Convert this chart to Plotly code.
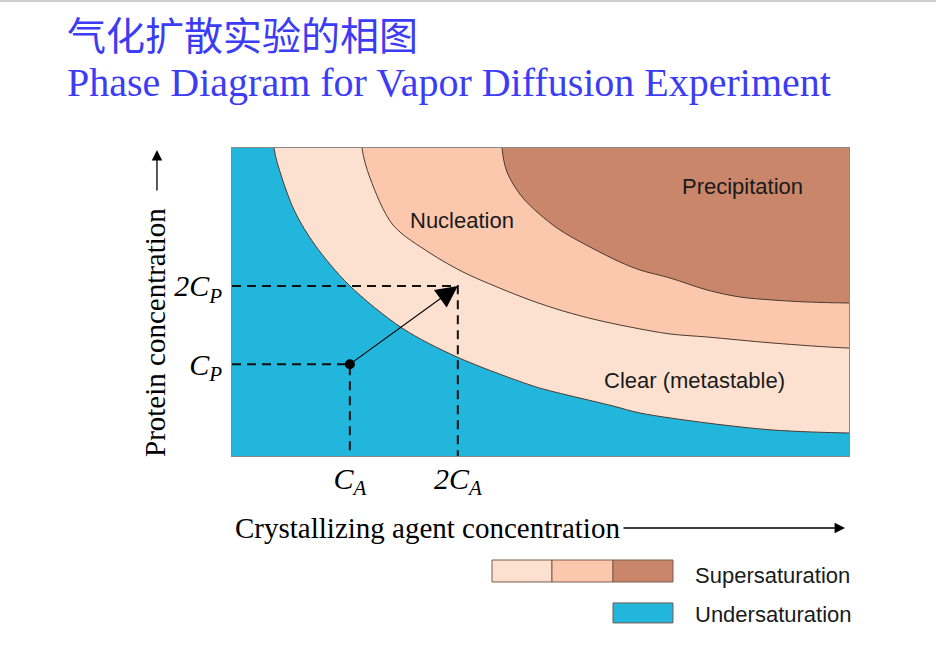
import plotly.graph_objects as go

# ---- data (arbitrary concentration units; x: 0..10, y: 0..5) ----
solub_x = [0.681, 0.810, 1.021, 1.345, 1.896, 2.755, 3.647, 4.830, 5.105, 6.175, 6.613, 7.699, 8.768, 10.0]
solub_y = [5.000, 4.513, 3.961, 3.425, 2.776, 2.078, 1.607, 1.153, 1.071, 0.812, 0.698, 0.536, 0.422, 0.373]

nucl_x = [2.107, 2.237, 2.609, 3.209, 3.744, 4.295, 4.830, 5.365, 5.916, 6.451, 7.099, 7.699, 8.768, 10.0]
nucl_y = [5.000, 4.513, 3.750, 3.295, 2.987, 2.744, 2.532, 2.354, 2.208, 2.094, 1.981, 1.932, 1.834, 1.753]

prec_x = [4.376, 4.457, 4.716, 5.267, 5.802, 6.288, 6.613, 7.099, 7.699, 8.233, 8.768, 9.319, 10.0]
prec_y = [5.000, 4.610, 4.188, 3.701, 3.393, 3.149, 3.019, 2.890, 2.695, 2.581, 2.532, 2.500, 2.484]

CA, CA2 = 1.91, 3.66
CP, CP2 = 1.49, 2.76
x_ticks = [CA, CA2]
x_ticktext = ["<i>C<sub>A</sub></i>", "<i>2C<sub>A</sub></i>"]
y_ticks = [CP, CP2]
y_ticktext = ["<i>C<sub>P</sub></i>", "<i>2C<sub>P</sub></i>"]

regions = ["Clear (metastable)", "Nucleation", "Precipitation"]
region_pos = [(7.50, 1.22), (3.73, 3.83), (8.27, 4.37)]

BLUE = "#22b6dc"
LIGHT = "#fde1d0"
MID = "#fbc8ad"
DARK = "#c9866a"
EDGE = "#4a3a30"

fig = go.Figure()

XR, YR = [0, 10], [0, 5]
out_x = XR[1] + 0.8
out_y = YR[1] + 0.6
for cx, cy, col in [(solub_x, solub_y, LIGHT), (nucl_x, nucl_y, MID), (prec_x, prec_y, DARK)]:
    xs = [cx[0]] + list(cx) + [out_x, out_x, cx[0]]
    ys = [out_y] + list(cy) + [cy[-1], out_y, out_y]
    fig.add_trace(go.Scatter(x=xs, y=ys, fill="toself", fillcolor=col, mode="lines",
                             line=dict(color=EDGE, width=1, shape="spline", smoothing=0.9),
                             hoverinfo="skip", showlegend=False))

# dashed guide lines
for xv, yv in [(CA, CP), (CA2, CP2)]:
    fig.add_trace(go.Scatter(x=[0, xv, xv], y=[yv, yv, 0], mode="lines",
                             line=dict(color="#111", width=2, dash="9px,6px"),
                             hoverinfo="skip", showlegend=False))

# starting point
fig.add_trace(go.Scatter(x=[CA], y=[CP], mode="markers",
                         marker=dict(color="black", size=10), hoverinfo="skip", showlegend=False))

fig.add_annotation(x=CA2, y=CP2, ax=CA, ay=CP, xref="x", yref="y", axref="x", ayref="y",
                   showarrow=True, arrowhead=2, arrowsize=3.6, arrowwidth=1.2,
                   arrowcolor="black", text="", standoff=0)

for txt, (tx, ty) in zip(regions, region_pos):
    fig.add_annotation(x=tx, y=ty, text=txt, showarrow=False,
                       font=dict(family="Liberation Sans, Arial", size=22, color="#1a1a1a"))

# titles
fig.add_annotation(xref="paper", yref="paper", x=-0.2707, y=1.375, xanchor="left", yanchor="middle",
                   text="气化扩散实验的相图", showarrow=False,
                   font=dict(family="Noto Sans CJK SC", size=39, color="#3c3cf5"))
fig.add_annotation(xref="paper", yref="paper", x=-0.2707, y=1.214, xanchor="left", yanchor="middle",
                   text="Phase Diagram for Vapor Diffusion Experiment", showarrow=False,
                   font=dict(family="Liberation Serif, Times New Roman", size=40, color="#3c3cf5"))

# axis titles and arrows
fig.add_annotation(xref="paper", yref="paper", x=0.0016, y=-0.2338, xanchor="left", yanchor="middle",
                   text="Crystallizing agent concentration", showarrow=False,
                   font=dict(family="Liberation Serif, Times New Roman", size=29, color="black"))
fig.add_annotation(xref="paper", yref="paper", x=0.9935, y=-0.2338, ax=-223, ay=0,
                   text="", showarrow=True, arrowhead=2, arrowsize=1.6, arrowwidth=1.3, arrowcolor="black")
fig.add_annotation(xref="paper", yref="paper", x=-0.1248, y=0.4026, textangle=-90,
                   xanchor="center", yanchor="middle",
                   text="Protein concentration", showarrow=False,
                   font=dict(family="Liberation Serif, Times New Roman", size=29, color="black"))
fig.add_annotation(xref="paper", yref="paper", x=-0.1216, y=0.9935, ax=0, ay=42,
                   text="", showarrow=True, arrowhead=2, arrowsize=1.6, arrowwidth=1.3, arrowcolor="black")

# legend boxes
def box(x0, x1, y0, y1, col):
    fig.add_shape(type="rect", xref="paper", yref="paper", x0=x0, x1=x1, y0=y0, y1=y1,
                  fillcolor=col, line=dict(color="#7a5a4a", width=1))

box(0.4214, 0.5186, -0.409, -0.3377, LIGHT)
box(0.5186, 0.6175, -0.409, -0.3377, MID)
box(0.6175, 0.7147, -0.409, -0.3377, DARK)
box(0.6175, 0.7147, -0.542, -0.477, BLUE)
fig.add_annotation(xref="paper", yref="paper", x=0.747, y=-0.3896, xanchor="left", yanchor="middle",
                   text="Supersaturation", showarrow=False,
                   font=dict(family="Liberation Sans, Arial", size=22, color="#1a1a1a"))
fig.add_annotation(xref="paper", yref="paper", x=0.747, y=-0.516, xanchor="left", yanchor="middle",
                   text="Undersaturation", showarrow=False,
                   font=dict(family="Liberation Sans, Arial", size=22, color="#1a1a1a"))

# faint top border line
fig.add_shape(type="line", xref="paper", yref="paper", x0=-0.376, x1=1.141, y0=1.4772, y1=1.4772,
              line=dict(color="#cccccc", width=2))

fig.update_layout(
    width=936, height=665,
    margin=dict(l=232, r=87, t=148, b=209),
    paper_bgcolor="white", plot_bgcolor=BLUE,
    xaxis=dict(range=XR, showgrid=False, zeroline=False, showline=True, mirror=True,
               linecolor="#8a8a8a", linewidth=1, tickvals=x_ticks, ticktext=x_ticktext,
               ticks="", ticklabelstandoff=-4,
               tickfont=dict(family="Liberation Serif, Times New Roman", size=30, color="black")),
    yaxis=dict(range=YR, showgrid=False, zeroline=False, showline=True, mirror=True,
               linecolor="#8a8a8a", linewidth=1, tickvals=y_ticks, ticktext=y_ticktext,
               ticks="", ticklabelstandoff=3,
               tickfont=dict(family="Liberation Serif, Times New Roman", size=30, color="black")),
    showlegend=False,
)

fig.write_html("out.html", config={"displayModeBar": False},
               post_script="document.body.style.margin='0';")
